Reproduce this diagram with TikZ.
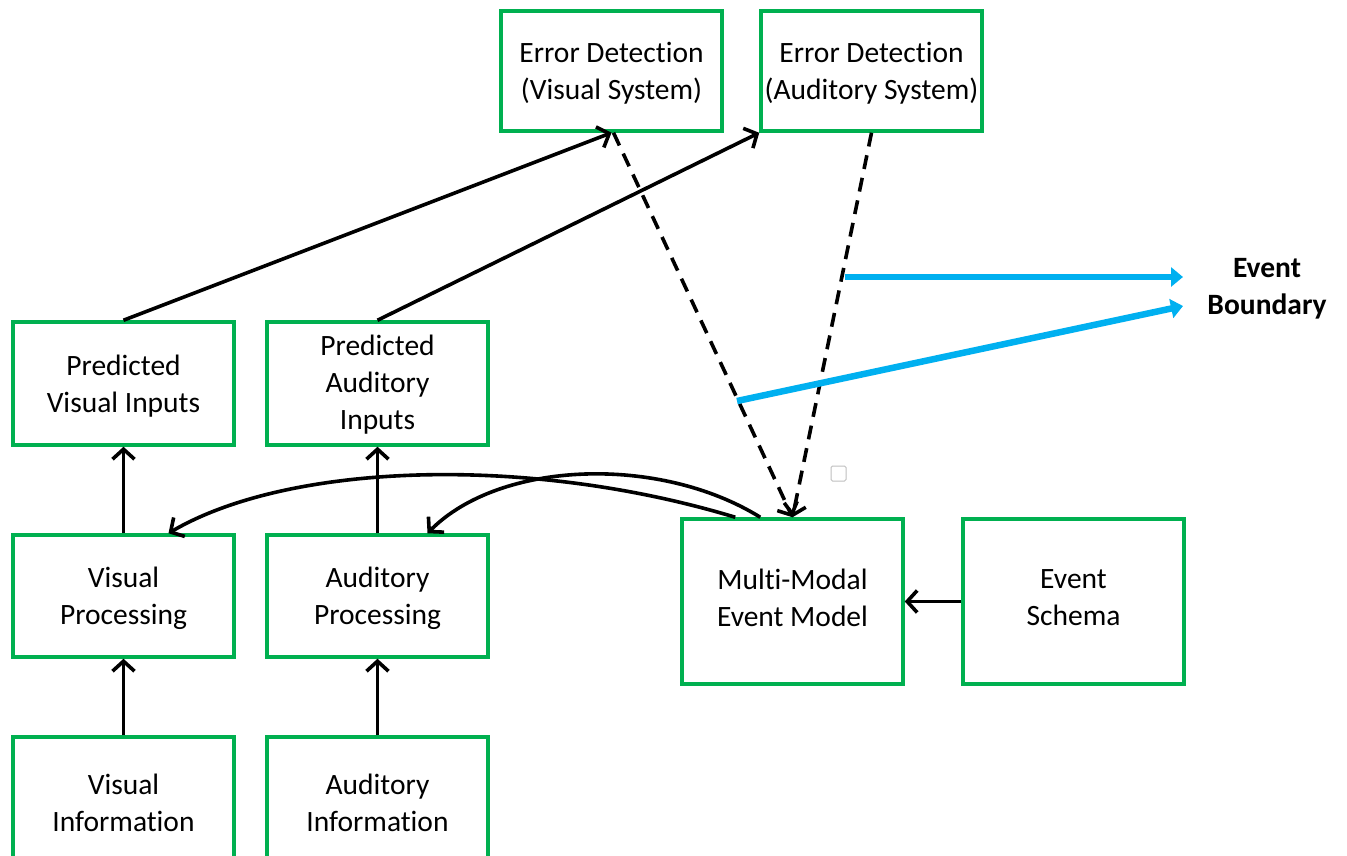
\documentclass[tikz,border=0pt]{standalone}
\usepackage{fontspec}
\setmainfont{Carlito}[Ligatures=NoCommon]
\usetikzlibrary{arrows.meta}
\definecolor{boxgreen}{RGB}{0,176,80}
\definecolor{bndblue}{RGB}{0,176,240}
\tikzset{
  boxfont/.style={font=\fontsize{29.5}{37}\selectfont},
  box/.style={draw=boxgreen, line width=3.5pt, fill=white, minimum width=221pt,
    minimum height=122pt, align=center, inner sep=0pt, boxfont},
  boxtext/.style={align=center, boxfont, inner sep=0pt},
  arr/.style={line width=3.6pt, -{Straight Barb[length=10pt,width=22pt,line width=3.6pt]}},
  dasharr/.style={arr, dash pattern=on 14pt off 9pt},
  bluearr/.style={draw=bndblue, line width=6.5pt, -{Triangle[length=12pt,width=19pt]}},
}
\begin{document}
\begin{tikzpicture}[x=1pt, y=-1pt]
  \clip (0,0) rectangle (1347,856);
  \fill[white] (0,0) rectangle (1347,856);

  % top row: error detection
  \node[box, minimum height=120pt] (edv) at (611.5,71) {};
  \node[boxtext] (edvt) at (611.5,73) {Error Detection\\(Visual System)};
  \node[box, minimum height=120pt] (eda) at (871.5,71) {};
  \node[boxtext] (edat) at (871.5,73) {Error Detection\\(Auditory System)};

  % predictions
  \node[box, minimum height=123pt] (pvi) at (123.5,383.5) {};
  \node[boxtext] (pvit) at (123.5,386) {Predicted\\Visual Inputs};
  \node[box, minimum height=123pt] (pai) at (377.5,383.5) {};
  \node[boxtext] (pait) at (377.5,384.5) {Predicted\\Auditory\\Inputs};

  % processing
  \node[box] (vp) at (123.5,596) {};
  \node[boxtext] (vpt) at (123.5,598) {Visual\\Processing};
  \node[box] (ap) at (377.5,596) {};
  \node[boxtext] (apt) at (377.5,598) {Auditory\\Processing};

  % inputs (running off the lower edge)
  \node[box, minimum height=128pt] (vi) at (123.5,801) {};
  \node[boxtext] (vit) at (123.5,803) {Visual\\Information};
  \node[box, minimum height=128pt] (ai) at (377.5,801) {};
  \node[boxtext] (ait) at (377.5,803) {Auditory\\Information};

  % event model and schema
  \node[box, minimum height=165pt] (mm) at (792.5,601.5) {};
  \node[boxtext] (mmt) at (792.5,598) {Multi-Modal\\Event Model};
  \node[box, minimum height=165pt] (es) at (1073.5,601.5) {};
  \node[boxtext] (est) at (1073.5,598) {Event\\Schema};

  % event boundary label
  \node[font=\fontsize{29.5}{36.5}\selectfont\bfseries, align=center, inner sep=0pt] (eb) at (1267,289) {Event\\Boundary};

  % small marker square
  \node[draw=black!25, line width=1pt, rounded corners=1.5pt, minimum size=15pt, inner sep=0pt] (sq) at (838.5,473.5) {};

  % bottom-up flow
  \draw[arr] (vi.north) -- (vp.south);
  \draw[arr] (ai.north) -- (ap.south);
  \draw[arr] (vp.north) -- (pvi.south);
  \draw[arr] (ap.north) -- (pai.south);
  \draw[arr] (pvi.north) -- (edv.south);
  \draw[arr] (pai.north) -- (eda.south west);
  \draw[arr] (es.west) -- (mm.east);

  % top-down predictions from the event model
  \draw[arr] ([xshift=55pt]mm.north west) .. controls (530,455) and (290,462) .. ([xshift=45pt]vp.north);
  \draw[arr] ([xshift=80pt]mm.north west) .. controls (660,455) and (500,460) .. ([xshift=50pt]ap.north);

  % error signals
  \draw[dasharr] ([xshift=2pt]edv.south) -- (mm.north);
  \draw[dasharr] (eda.south) -- (mm.north);

  % event boundary signals
  \coordinate (b1s) at (845,277);
  \coordinate (b1e) at (1183,277);
  \coordinate (b2s) at (737,401);
  \coordinate (b2e) at (1183,306);
  \draw[bluearr] (b1s) -- (b1e);
  \draw[bluearr] (b2s) -- (b2e);
\end{tikzpicture}
\end{document}
